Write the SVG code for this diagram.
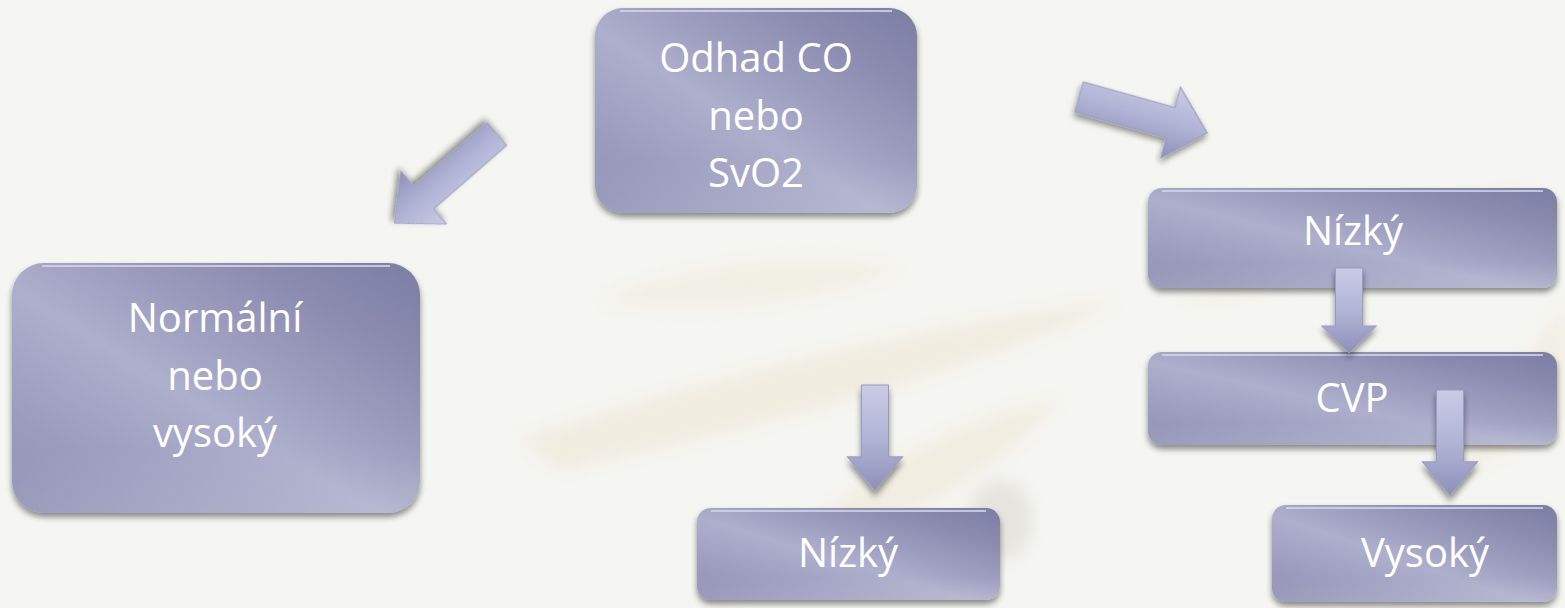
<svg xmlns="http://www.w3.org/2000/svg" width="1565" height="608" viewBox="0 0 1565 608">
  <defs>
    <linearGradient id="boxGrad" x1="0" y1="1" x2="1" y2="0">
      <stop offset="0" stop-color="#8e8fb3"/>
      <stop offset="0.45" stop-color="#aeafcc"/>
      <stop offset="0.8" stop-color="#8a8baf"/>
      <stop offset="1" stop-color="#7c7da3"/>
    </linearGradient>
    <linearGradient id="boxShade" x1="0" y1="0" x2="0" y2="1">
      <stop offset="0" stop-color="#ffffff" stop-opacity="0"/>
      <stop offset="0.75" stop-color="#ffffff" stop-opacity="0"/>
      <stop offset="1" stop-color="#ffffff" stop-opacity="0.12"/>
    </linearGradient>
    <linearGradient id="arrowGrad" x1="0" y1="0" x2="0" y2="1">
      <stop offset="0" stop-color="#c9cbe6"/>
      <stop offset="0.5" stop-color="#b2b4d6"/>
      <stop offset="1" stop-color="#8e90b8"/>
    </linearGradient>
    <filter id="shadow" x="-10%" y="-10%" width="120%" height="130%">
      <feGaussianBlur in="SourceAlpha" stdDeviation="3"/>
      <feOffset dx="0" dy="4" result="b"/>
      <feComponentTransfer><feFuncA type="linear" slope="0.45"/></feComponentTransfer>
      <feMerge><feMergeNode/><feMergeNode in="SourceGraphic"/></feMerge>
    </filter>
    <filter id="soft"><feGaussianBlur stdDeviation="8"/></filter>
    <path id="arrowDown" d="M-13.5,0 L13.5,0 L13.5,58 L27.5,58 L0,85 L-27.5,58 L-13.5,58 Z"/>
    <path id="arrowDiag" d="M0,-15 L97,-15 L97,-35 L136,0 L97,35 L97,15 L0,15 Z"/>
  </defs>
  <style>
    .box { fill: url(#boxGrad); filter: url(#shadow); }
    .boxo { fill: url(#boxShade); }
    .hl { fill: none; stroke: #d6d7ea; stroke-width: 2; stroke-opacity: 0.8; }
    .arrow { fill: url(#arrowGrad); stroke: #9a9cc2; stroke-width: 1; filter: url(#shadow); }
    .lbl { font-family: "Open Sans", "Noto Sans", sans-serif; font-size: 40px; fill: #ffffff; text-anchor: middle; }
  </style>

  <!-- background -->
  <rect x="0" y="0" width="1565" height="608" fill="#f5f5f1"/>
  <g filter="url(#soft)" opacity="0.35">
    <path d="M520,440 C700,380 900,330 1120,300 C1000,360 800,420 560,470 Z" fill="#e8dcc0"/>
    <path d="M600,300 C700,260 820,250 900,270 C820,300 700,320 600,300 Z" fill="#ece3cc"/>
    <path d="M780,560 C860,470 950,420 1060,400 C1000,470 900,530 780,560 Z" fill="#eadfc4"/>
    <path d="M1180,300 C1300,240 1420,200 1540,190 C1440,250 1300,290 1180,300 Z" fill="#e9e2cf"/>
    <path d="M1450,480 C1500,400 1540,340 1565,300 L1565,420 Z" fill="#ece2c8"/>
    <ellipse cx="1000" cy="520" rx="32" ry="40" fill="#c9c6c0"/>
    <path d="M700,600 C740,560 780,540 820,530 C800,570 760,595 700,600 Z" fill="#efe3c0"/>
  </g>

  <!-- nodes -->
  <g id="node-odhad">
    <rect class="box" x="595" y="8" width="322" height="205" rx="28"/>
    <rect class="boxo" x="595" y="8" width="322" height="205" rx="28"/>
    <path class="hl" d="M620,11 L892,11"/>
    <text class="lbl" x="756" y="72">Odhad CO</text>
    <text class="lbl" x="756" y="130">nebo</text>
    <text class="lbl" x="756" y="187">SvO2</text>
  </g>

  <g id="node-normalni">
    <rect class="box" x="12" y="263" width="408" height="250" rx="32"/>
    <rect class="boxo" x="12" y="263" width="408" height="250" rx="32"/>
    <path class="hl" d="M42,266 L390,266"/>
    <text class="lbl" x="215" y="332">Normální</text>
    <text class="lbl" x="215" y="390">nebo</text>
    <text class="lbl" x="215" y="447">vysoký</text>
  </g>

  <g id="node-nizky-right">
    <rect class="box" x="1148" y="188" width="409" height="100" rx="14"/>
    <rect class="boxo" x="1148" y="188" width="409" height="100" rx="14"/>
    <path class="hl" d="M1162,191 L1543,191"/>
    <text class="lbl" x="1353" y="245">Nízký</text>
  </g>

  <g id="node-cvp">
    <rect class="box" x="1148" y="352" width="409" height="93" rx="14"/>
    <rect class="boxo" x="1148" y="352" width="409" height="93" rx="14"/>
    <path class="hl" d="M1162,355 L1543,355"/>
    <text class="lbl" x="1352" y="412">CVP</text>
  </g>

  <g id="node-vysoky">
    <rect class="box" x="1272" y="505" width="285" height="97" rx="14"/>
    <rect class="boxo" x="1272" y="505" width="285" height="97" rx="14"/>
    <path class="hl" d="M1286,508 L1543,508"/>
    <text class="lbl" x="1425" y="567">Vysoký</text>
  </g>

  <g id="node-nizky-bottom">
    <rect class="box" x="697" y="508" width="303" height="92" rx="14"/>
    <rect class="boxo" x="697" y="508" width="303" height="92" rx="14"/>
    <path class="hl" d="M711,511 L986,511"/>
    <text class="lbl" x="848" y="567">Nízký</text>
  </g>

  <!-- connectors -->
  <g id="connectors">
    <use href="#arrowDiag" class="arrow" transform="translate(497,134) rotate(139)"/>
    <use href="#arrowDiag" class="arrow" transform="translate(1079,97) rotate(15.6) scale(0.98,1.05)"/>
    <use href="#arrowDown" class="arrow" transform="translate(1349,268)"/>
    <use href="#arrowDown" class="arrow" transform="translate(1450,390) scale(1,1.24)"/>
    <use href="#arrowDown" class="arrow" transform="translate(875,385) scale(1,1.24)"/>
  </g>
</svg>
